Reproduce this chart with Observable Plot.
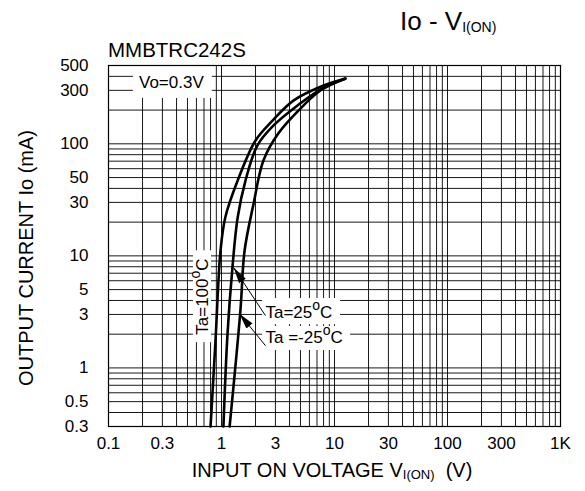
<!DOCTYPE html>
<html><head><meta charset="utf-8">
<script src="https://cdn.jsdelivr.net/npm/d3@7"></script>
<script src="https://cdn.jsdelivr.net/npm/@observablehq/plot@0.6"></script>
<style>
body{margin:0;background:#fff;font-family:"Liberation Sans",Arial,sans-serif;}
#chart{width:585px;height:491px;}
</style>
</head><body><div id="chart"></div>
<script>
// Axis ticks and labels
const xTicks = [0.1, 0.3, 1, 3, 10, 30, 100, 300, 1000];
const xTickLabels = ["0.1", "0.3", "1", "3", "10", "30", "100", "300", "1K"];
const yTicks = [0.3, 0.5, 1, 3, 5, 10, 30, 50, 100, 300, 500];
const yTickLabels = ["0.3", "0.5", "1", "3", "5", "10", "30", "50", "100", "300", "500"];

// Grid lines (log paper)
const xGrid = [0.1,0.2,0.3,0.4,0.5,0.6,0.7,0.8,0.9,1,2,3,4,5,6,7,8,9,10,20,30,40,50,60,70,80,90,100,200,300,400,500,600,700,800,900,1000];
const yGrid = [0.3,0.4,0.5,0.6,0.7,0.8,0.9,1,2,3,4,5,6,7,8,9,10,20,30,40,50,60,70,80,90,100,200,300,400,500];

// Series: input on voltage (V) vs output current (mA)
const seriesNames = ["Ta=100", "Ta=25", "Ta=-25"];
const vin100 = [0.80, 0.885, 0.98, 1.08, 1.39, 2.0, 2.83, 4.33, 8.0, 12.5];
const io100  = [0.3, 1.75, 11.1, 22, 47, 107, 161, 243, 331, 383];
const vin25  = [1.04, 1.13, 1.25, 1.39, 1.63, 2.08, 2.89, 4.71, 8.0, 12.3];
const io25   = [0.3, 2.0, 7.9, 22, 47, 97, 146, 220, 318, 378];
const vinM25 = [1.18, 1.47, 1.60, 1.92, 2.35, 3.19, 4.80, 7.5, 12.5];
const ioM25  = [0.3, 3.25, 11.1, 29, 71, 124, 198, 299, 383];

// Annotations (data units)
const condText = ["Vo=0.3V"];
const condX = [0.36];
const condY = [350];
const rotText = ["Ta=100^oC"];
const rotX = [0.68];
const rotY = [4.33];
const tempText = ["Ta=25^oC", "Ta =-25^oC"];
const tempX = [2.45, 2.45];
const tempY = [3.12, 1.86];
// White label backgrounds (data units)
const boxX1 = [0.166, 0.565, 2.31, 2.31];
const boxX2 = [0.83, 0.816, 11.3, 13.9];
const boxY1 = [254, 1.68, 2.43, 1.43];
const boxY2 = [490, 11.1, 4.16, 2.34];
// Arrows (data units)
const arrowX1 = [2.45, 2.45];
const arrowY1 = [2.93, 1.58];
const arrowX2 = [1.28, 1.44];
const arrowY2 = [7.86, 3.05];

const rows = [];
vin100.forEach((v, i) => rows.push({series: seriesNames[0], v, io: io100[i]}));
vin25.forEach((v, i) => rows.push({series: seriesNames[1], v, io: io25[i]}));
vinM25.forEach((v, i) => rows.push({series: seriesNames[2], v, io: ioM25[i]}));
const boxes = boxX1.map((d, i) => ({x1: d, x2: boxX2[i], y1: boxY1[i], y2: boxY2[i]}));
const arrows = arrowX1.map((d, i) => ({x1: d, y1: arrowY1[i], x2: arrowX2[i], y2: arrowY2[i]}));

const chart = Plot.plot({
  width: 585, height: 491,
  marginLeft: 108, marginRight: 25, marginTop: 65, marginBottom: 65,
  style: {fontFamily: "Liberation Sans, Arial, sans-serif", fontSize: "16px", color: "#000", background: "#fff"},
  x: {type: "log", domain: [0.1, 1000], axis: null},
  y: {type: "log", domain: [0.3, 500], axis: null},
  marks: [
    Plot.ruleX(xGrid, {stroke: "#000", strokeOpacity: 0.9}),
    Plot.ruleY(yGrid, {stroke: "#000", strokeOpacity: 0.9}),
    Plot.rect(boxes, {x1: "x1", x2: "x2", y1: "y1", y2: "y2", fill: "#fff"}),
    Plot.line(rows, {x: "v", y: "io", z: "series", curve: "catmull-rom", stroke: "#000", strokeWidth: 2.6}),
    Plot.link(arrows, {x1: "x1", y1: "y1", x2: "x2", y2: "y2", stroke: "#000", strokeWidth: 1, className: "pointer"}),
    Plot.frame({stroke: "#000", strokeWidth: 1.2}),
    // tick labels
    Plot.text(xTicks, {x: d => d, frameAnchor: "bottom", dy: 17, lineAnchor: "middle", fontSize: 17,
      text: d => xTickLabels[xTicks.indexOf(d)], fill: "#000"}),
    Plot.text(yTicks, {y: d => d, frameAnchor: "left", dx: -20, textAnchor: "end", fontSize: 17,
      text: d => yTickLabels[yTicks.indexOf(d)], fill: "#000"}),
    // annotations
    Plot.text(condText, {x: condX, y: condY, text: d => d, fontSize: 17, fill: "#000"}),
    Plot.text(rotText, {x: rotX, y: rotY, text: d => d, rotate: -90, fontSize: 17, fill: "#000", className: "sup"}),
    Plot.text(tempText, {x: tempX, y: tempY, text: d => d, textAnchor: "start", fontSize: 17, fill: "#000", className: "sup"})
  ]
});
document.getElementById("chart").appendChild(chart);

const svg = d3.select(chart);
// filled arrowheads
const defs = svg.append("defs");
defs.append("marker").attr("id", "ah").attr("viewBox", "-10 -5 10 10")
  .attr("refX", 0).attr("refY", 0).attr("markerWidth", 16).attr("markerHeight", 16)
  .attr("markerUnits", "userSpaceOnUse").attr("orient", "auto")
  .append("path").attr("d", "M-10,-2.5L0,0L-10,2.5Z").attr("fill", "#000");
svg.selectAll('g.pointer path, g[aria-label="link"] path').attr("marker-end", "url(#ah)");

// superscript degree "o" in notes
svg.selectAll('text').each(function() {
  const el = d3.select(this);
  if (el.selectAll("tspan").size()) return;
  const s = el.text();
  if (!s.includes("^o")) return;
  const [a, b] = s.split("^o");
  el.text(null);
  el.append("tspan").text(a);
  el.append("tspan").attr("font-size", 14).attr("dy", -8).text("o");
  el.append("tspan").attr("dy", 8).text(b);
});

// Title, subtitle, x and y axis labels
const title = svg.append("text").attr("x", 400).attr("y", 30).attr("text-anchor", "start").attr("font-size", 26).attr("fill", "#000");
title.append("tspan").text("Io - V");
title.append("tspan").attr("font-size", 14).attr("dy", 2).text("I(ON)");

svg.append("text").attr("x", 108).attr("y", 57).attr("text-anchor", "start").attr("font-size", 20.5).attr("fill", "#000").text("MMBTRC242S");

const xl = svg.append("text").attr("x", 332).attr("y", 477).attr("text-anchor", "middle").attr("font-size", 20).attr("fill", "#000");
xl.append("tspan").text("INPUT ON VOLTAGE V");
xl.append("tspan").attr("font-size", 13).attr("dy", 2).text("I(ON)");
xl.append("tspan").attr("dy", -2).text("\u00a0 (V)");

svg.append("text").attr("transform", "translate(33,258) rotate(-90)").attr("text-anchor", "middle")
  .attr("font-size", 20).attr("fill", "#000").text("OUTPUT CURRENT Io (mA)");
</script>
</body></html>
